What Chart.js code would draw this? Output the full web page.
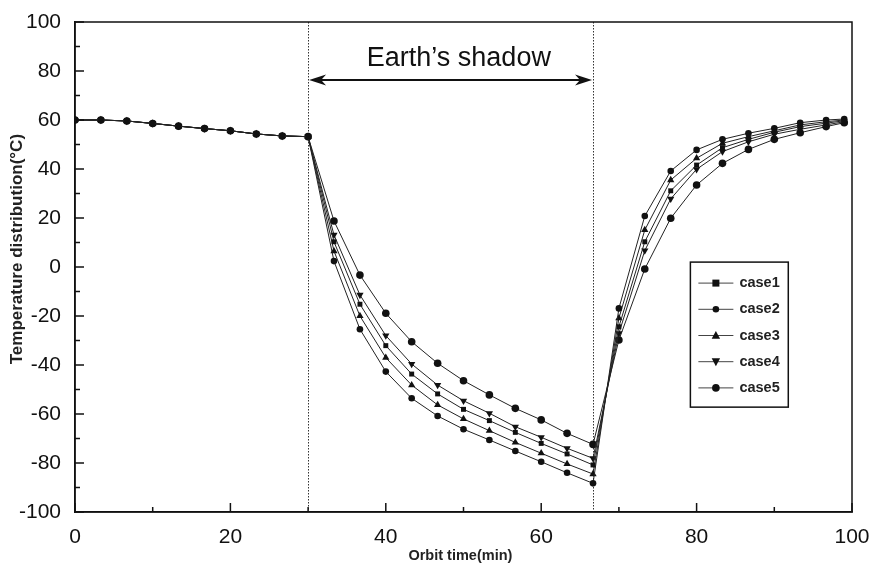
<!DOCTYPE html>
<html><head><meta charset="utf-8">
<script src="https://cdn.jsdelivr.net/npm/chart.js@4.4.1/dist/chart.umd.min.js"></script>
<style>html,body{margin:0;padding:0;background:#fff}</style>
</head><body>
<canvas id="c" width="872" height="567"></canvas>
<script>
// ---- data ----
const timeMin = [0, 3.33, 6.67, 10, 13.33, 16.67, 20, 23.33, 26.67, 30,
  33.33, 36.67, 40, 43.33, 46.67, 50, 53.33, 56.67, 60, 63.33, 66.67,
  70, 73.33, 76.67, 80, 83.33, 86.67, 90, 93.33, 96.67, 99];
const sunlit = [60, 60, 59.6, 58.6, 57.5, 56.5, 55.6, 54.3, 53.5, 53.2];
const case1 = sunlit.concat([10.3, -15.2, -32.1, -43.7, -51.8, -58.1, -62.7, -67.5, -72.0, -76.3, -80.8,
  -24.4, 10.3, 31.1, 41.6, 48.7, 52.1, 55.0, 57.3, 58.7, 59.7]);
const case2 = sunlit.concat([2.4, -25.4, -42.7, -53.6, -60.8, -66.2, -70.6, -75.1, -79.5, -84.0, -88.3,
  -16.9, 20.8, 39.2, 47.8, 52.1, 54.6, 56.6, 58.9, 60.0, 60.4]);
const case3 = sunlit.concat([6.5, -20.0, -37.0, -48.2, -56.3, -62.0, -66.8, -71.6, -76.0, -80.4, -84.5,
  -20.9, 15.1, 35.5, 44.4, 50.5, 53.2, 55.6, 58.0, 59.3, 60.0]);
const case4 = sunlit.concat([13.1, -11.4, -28.0, -39.6, -48.2, -54.6, -59.7, -65.2, -69.5, -74.0, -78.1,
  -27.1, 6.7, 27.8, 39.9, 47.1, 51.1, 54.2, 56.2, 58.0, 59.3]);
const case5 = sunlit.concat([18.8, -3.3, -18.9, -30.5, -39.3, -46.4, -52.2, -57.7, -62.4, -67.9, -72.4,
  -29.8, -0.8, 19.9, 33.5, 42.3, 48.0, 52.1, 54.8, 57.3, 58.9]);
const seriesNames = ['case1', 'case2', 'case3', 'case4', 'case5'];
const xTickValues = [0, 20, 40, 60, 80, 100];
const yTickValues = [-100, -80, -60, -40, -20, 0, 20, 40, 60, 80, 100];
const shadowStart = 30;
const shadowEnd = 66.67;
const shadowLabel = 'Earth’s shadow';
const xTitle = 'Orbit time(min)';
const yTitle = 'Temperature distribution(°C)';

// ---- styles ----
const FONT = '"Liberation Sans", Arial, Helvetica, sans-serif';
const markers = [
  {style: 'rect', r: 3.5, rot: 0},
  {style: 'circle', r: 3.3, rot: 0},
  {style: 'triangle', r: 4.2, rot: 0},
  {style: 'triangle', r: 4.2, rot: 180},
  {style: 'circle', r: 3.8, rot: 0}
];
const allSeries = [case1, case2, case3, case4, case5];

function drawMarker(ctx, m, x, y) {
  ctx.save();
  ctx.fillStyle = '#111';
  ctx.beginPath();
  if (m.style === 'rect') {
    ctx.rect(x - m.r, y - m.r, 2 * m.r, 2 * m.r);
  } else if (m.style === 'circle') {
    ctx.arc(x, y, m.r, 0, Math.PI * 2);
  } else {
    const s = m.rot === 180 ? -1 : 1;
    ctx.moveTo(x, y - s * m.r * 1.1);
    ctx.lineTo(x + m.r, y + s * m.r * 0.8);
    ctx.lineTo(x - m.r, y + s * m.r * 0.8);
    ctx.closePath();
  }
  ctx.fill();
  ctx.restore();
}

const datasets = allSeries.map((arr, i) => ({
  label: seriesNames[i],
  data: arr.map((v, k) => ({x: timeMin[k], y: v})),
  borderColor: '#222',
  borderWidth: 1,
  backgroundColor: '#111',
  pointBackgroundColor: '#111',
  pointBorderColor: '#111',
  pointBorderWidth: 0,
  pointStyle: markers[i].style,
  pointRadius: markers[i].r,
  pointRotation: markers[i].rot,
  tension: 0,
  fill: false
}));

const decor = {
  id: 'decor',
  beforeDatasetsDraw(chart) {
    const {ctx, chartArea: a, scales: {x, y}} = chart;
    ctx.save();
    ctx.strokeStyle = '#333';
    ctx.lineWidth = 1;
    ctx.setLineDash([1.5, 1.5]);
    [shadowStart, shadowEnd].forEach(t => {
      const px = Math.round(x.getPixelForValue(t)) + 0.5;
      ctx.beginPath(); ctx.moveTo(px, a.top); ctx.lineTo(px, a.bottom); ctx.stroke();
    });
    ctx.restore();
  },
  afterDraw(chart) {
    const {ctx, chartArea: a, scales: {x, y}} = chart;
    ctx.save();
    // frame
    ctx.strokeStyle = '#111';
    ctx.lineWidth = 1.5;
    ctx.strokeRect(a.left, a.top, a.right - a.left, a.bottom - a.top);
    // inward ticks
    for (let v = -100; v <= 100; v += 10) {
      const py = y.getPixelForValue(v);
      const len = (v % 20 === 0) ? 9 : 5;
      ctx.beginPath(); ctx.moveTo(a.left, py); ctx.lineTo(a.left + len, py); ctx.stroke();
    }
    for (let v = 0; v <= 100; v += 10) {
      const px = x.getPixelForValue(v);
      const len = (v % 20 === 0) ? 9 : 5;
      ctx.beginPath(); ctx.moveTo(px, a.bottom); ctx.lineTo(px, a.bottom - len); ctx.stroke();
    }
    // arrow
    const ay = y.getPixelForValue(76.3);
    const x0 = x.getPixelForValue(shadowStart), x1 = x.getPixelForValue(shadowEnd);
    ctx.lineWidth = 2;
    ctx.beginPath(); ctx.moveTo(x0 + 8, ay); ctx.lineTo(x1 - 8, ay); ctx.stroke();
    ctx.fillStyle = '#111';
    const head = (tip, dir) => {
      ctx.beginPath();
      ctx.moveTo(tip, ay);
      ctx.lineTo(tip + dir * 17, ay - 5.5);
      ctx.lineTo(tip + dir * 12, ay);
      ctx.lineTo(tip + dir * 17, ay + 5.5);
      ctx.closePath(); ctx.fill();
    };
    head(x0 + 1, 1); head(x1 - 1, -1);
    // label
    ctx.font = '27px ' + FONT;
    ctx.textAlign = 'center'; ctx.textBaseline = 'alphabetic';
    ctx.fillStyle = '#111';
    ctx.fillText(shadowLabel, x.getPixelForValue(49.4), y.getPixelForValue(82.0));
    // axis titles
    ctx.font = 'bold 14.5px ' + FONT;
    ctx.fillStyle = '#222';
    ctx.textBaseline = 'middle';
    ctx.fillText(xTitle, x.getPixelForValue(49.6), 556);
    ctx.save();
    ctx.translate(17, y.getPixelForValue(7.3));
    ctx.rotate(-Math.PI / 2);
    ctx.font = 'bold 17px ' + FONT;
    ctx.fillText(yTitle, 0, 0);
    ctx.restore();
    // legend
    const bl = x.getPixelForValue(79.2), br = x.getPixelForValue(91.8);
    const bt = y.getPixelForValue(2.0), bb = y.getPixelForValue(-57.2);
    ctx.fillStyle = '#fff';
    ctx.fillRect(bl, bt, br - bl, bb - bt);
    ctx.strokeStyle = '#111'; ctx.lineWidth = 1.5;
    ctx.strokeRect(bl, bt, br - bl, bb - bt);
    ctx.font = 'bold 14.5px ' + FONT;
    ctx.textAlign = 'left'; ctx.textBaseline = 'middle';
    seriesNames.forEach((n, i) => {
      const ly = bt + 21 + i * 26.2;
      ctx.strokeStyle = '#444'; ctx.lineWidth = 1;
      ctx.beginPath(); ctx.moveTo(bl + 8, ly); ctx.lineTo(bl + 43, ly); ctx.stroke();
      drawMarker(ctx, markers[i], bl + 25.5, ly);
      ctx.fillStyle = '#222';
      ctx.fillText(n, bl + 49, ly);
    });
    ctx.restore();
  }
};

new Chart(document.getElementById('c'), {
  type: 'line',
  data: {datasets},
  options: {
    responsive: false,
    animation: false,
    devicePixelRatio: 1,
    layout: {padding: {top: 22, right: 20, left: 0, bottom: 0}},
    plugins: {legend: {display: false}, tooltip: {enabled: false}},
    scales: {
      x: {
        type: 'linear', min: 0, max: 100,
        afterFit: s => { s.height = 55; s.paddingLeft = 0; s.paddingRight = 0; },
        afterBuildTicks: s => { s.ticks = xTickValues.map(v => ({value: v})); },
        grid: {display: false, drawTicks: false},
        border: {display: true, color: '#111', width: 1.5},
        ticks: {color: '#111', padding: 13, font: {family: FONT, size: 21}, maxRotation: 0}
      },
      y: {
        type: 'linear', min: -100, max: 100,
        afterFit: s => { s.width = 75; s.paddingTop = 0; s.paddingBottom = 0; },
        afterBuildTicks: s => { s.ticks = yTickValues.map(v => ({value: v})); },
        grid: {display: false, drawTicks: false},
        border: {display: true, color: '#111', width: 1.5},
        ticks: {color: '#111', padding: 14, font: {family: FONT, size: 21}}
      }
    }
  },
  plugins: [decor]
});
</script>
</body></html>
